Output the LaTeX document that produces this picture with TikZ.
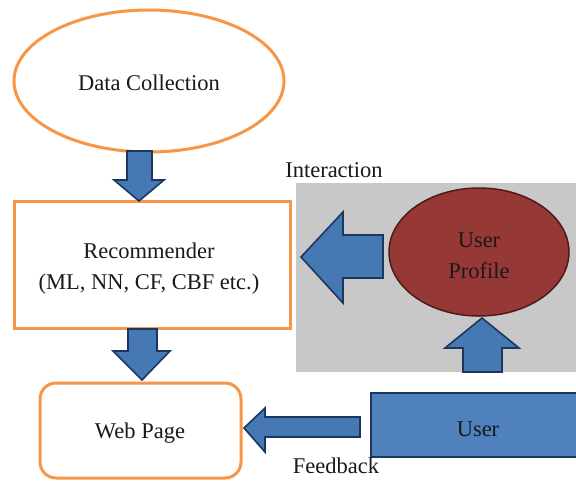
\documentclass[tikz,border=0pt]{standalone}
\usepackage{fontspec}
\setmainfont{Liberation Serif}
\usetikzlibrary{shapes.geometric}
\definecolor{orng}{RGB}{247,150,70}
\definecolor{arrfill}{RGB}{70,120,180}
\definecolor{arrline}{RGB}{28,55,95}
\definecolor{grayb}{RGB}{200,200,200}
\definecolor{profred}{RGB}{150,56,54}
\definecolor{profline}{RGB}{80,25,25}
\definecolor{userblue}{RGB}{79,129,189}
\tikzset{
  lbl/.style={font=\fontsize{22.5}{31}\selectfont, text={rgb,255:red,25;green,25;blue,25}, align=center},
  obox/.style={draw=orng, line width=3pt, fill=white},
  barrow/.style={fill=arrfill, draw=arrline, line width=1.6pt, line join=miter},
}
\begin{document}
\begin{tikzpicture}[x=1pt,y=-1pt]
\useasboundingbox (0,0) rectangle (576,480);
\fill[white] (0,0) rectangle (576,480);
% gray panel
\fill[grayb] (296,183) rectangle (576,372);
% Data collection
\node[obox, ellipse, minimum width=270pt, minimum height=142pt, inner sep=0pt] (dc) at (149,81) {};
\node[lbl] (dct) at (149,83) {Data Collection};
% Recommender
\draw[obox] (14,201) rectangle (290,328);
\node[lbl] (rec) at (149,269) {Recommender\\(ML, NN, CF, CBF etc.)};
% Web page
\draw[obox, rounded corners=16pt] (40,383) rectangle (241,478);
\node[lbl] (web) at (140,433) {Web Page};
% User profile
\node[ellipse, fill=profred, draw=profline, line width=1.5pt, minimum width=180pt, minimum height=128pt, inner sep=0pt] (prof) at (479,252) {};
\node[lbl] (proft) at (479,256) {User\\Profile};
% User
\draw[fill=userblue, draw=arrline, line width=1.6pt] (371,393) rectangle (590,457);
\node[lbl] (user) at (478,429) {User};
% labels
\node[lbl] (inter) at (334,170) {Interaction};
\node[lbl] (feed) at (336,466) {Feedback};
% block arrows
\draw[barrow] (127,151) -- (152,151) -- (152,180) -- (164,180) -- (139,201) -- (114,180) -- (127,180) -- cycle;
\draw[barrow] (128,329) -- (157,329) -- (157,351) -- (170,351) -- (142,380) -- (113,351) -- (128,351) -- cycle;
\draw[barrow] (383,235) -- (383,278) -- (343,278) -- (343,303) -- (301,257) -- (343,212) -- (343,235) -- cycle;
\draw[barrow] (463,372) -- (502,372) -- (502,348) -- (519,348) -- (482,318) -- (445,348) -- (463,348) -- cycle;
\draw[barrow] (360,417) -- (360,437) -- (265,437) -- (265,452) -- (244,428) -- (265,408) -- (265,417) -- cycle;
\end{tikzpicture}
\end{document}
